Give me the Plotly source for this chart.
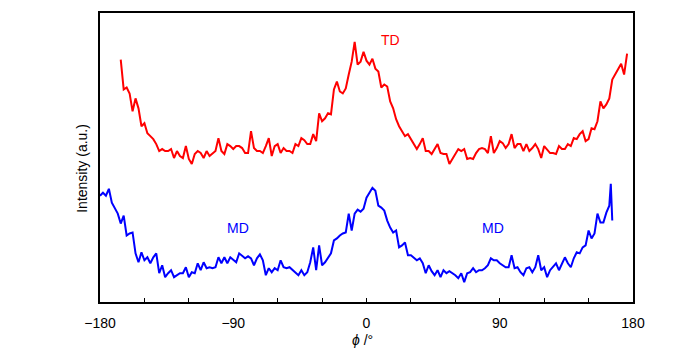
import plotly.graph_objects as go

# Azimuthal intensity profiles (phi in degrees, intensity in a.u.)
td_phi = list(range(-166, 181, 2))
td_intensity = [
    244, 214, 216, 210, 192, 205, 195, 177, 180, 170, 167, 164, 159, 152, 154, 152,
    152, 154, 145, 152, 147, 145, 157, 144, 139, 149, 152, 150, 145, 152, 147, 150,
    152, 165, 152, 149, 159, 157, 154, 157, 157, 155, 150, 150, 172, 155, 152, 152,
    150, 157, 165, 147, 157, 159, 150, 155, 152, 152, 150, 159, 157, 165, 163, 159,
    159, 169, 162, 190, 182, 185, 190, 189, 214, 222, 212, 210, 215, 229, 242, 262,
    239, 242, 252, 243, 239, 245, 235, 232, 216, 219, 217, 202, 195, 184, 177, 172,
    167, 169, 164, 160, 154, 159, 165, 152, 152, 149, 154, 159, 150, 149, 149, 139,
    144, 149, 154, 152, 154, 144, 145, 144, 150, 154, 155, 154, 150, 167, 150, 155,
    162, 160, 155, 159, 169, 155, 159, 159, 152, 159, 152, 155, 159, 154, 145, 157,
    154, 150, 150, 149, 157, 154, 154, 159, 157, 165, 164, 169, 172, 162, 164, 175,
    174, 182, 202, 195, 199, 205, 224, 229, 234, 240, 229, 250,
]

md_phi = list(range(-180, 165, 2)) + [165, 166]
md_intensity = [
    107, 110, 107, 114, 100, 94, 89, 79, 87, 67, 69, 70, 49, 40, 50, 42,
    45, 39, 45, 49, 29, 37, 25, 29, 32, 25, 27, 29, 29, 35, 25, 30,
    29, 39, 32, 40, 34, 35, 34, 35, 45, 39, 45, 39, 45, 42, 40, 49,
    46, 44, 46, 44, 37, 44, 48, 42, 27, 34, 30, 34, 32, 42, 35, 34,
    35, 32, 29, 27, 32, 27, 30, 40, 55, 32, 57, 37, 40, 45, 49, 62,
    64, 67, 69, 70, 89, 72, 89, 93, 91, 94, 105, 110, 115, 112, 97, 95,
    92, 82, 75, 70, 72, 55, 57, 60, 47, 47, 44, 42, 44, 39, 29, 37,
    31, 27, 32, 25, 32, 29, 31, 29, 27, 24, 29, 20, 29, 30, 34, 30,
    32, 32, 34, 37, 44, 42, 42, 39, 37, 35, 35, 47, 34, 35, 30, 27,
    34, 35, 30, 35, 47, 32, 35, 25, 32, 35, 39, 32, 39, 45, 39, 35,
    44, 50, 49, 55, 57, 72, 64, 69, 89, 80, 80, 90, 97, 119, 82,
]

td_label = dict(text="TD", phi=16.5, intensity=264)
md_labels = [dict(text="MD", phi=-86.8, intensity=75), dict(text="MD", phi=85.4, intensity=75)]

major_ticks = [-180, -90, 0, 90, 180]
minor_ticks = list(range(-180, 181, 30))

fig = go.Figure()
fig.add_trace(go.Scatter(x=td_phi, y=td_intensity, mode="lines",
                         line=dict(color="#ff0000", width=2), showlegend=False))
fig.add_trace(go.Scatter(x=md_phi, y=md_intensity, mode="lines",
                         line=dict(color="#0000ff", width=2), showlegend=False))

fig.add_annotation(x=td_label["phi"], y=td_label["intensity"], text=td_label["text"],
                   showarrow=False, font=dict(color="#ff0000", size=14))
for lab in md_labels:
    fig.add_annotation(x=lab["phi"], y=lab["intensity"], text=lab["text"],
                       showarrow=False, font=dict(color="#0000ff", size=14))

# axis titles placed as paper-anchored text
fig.add_annotation(xref="paper", yref="paper", x=0.4916, y=-0.131,
                   xanchor="center", yanchor="middle", showarrow=False,
                   text="<i>\u03d5</i> /\u00b0", font=dict(size=14))
fig.add_annotation(xref="paper", yref="paper", x=-0.034, y=0.464,
                   xanchor="center", yanchor="middle", showarrow=False, textangle=-90,
                   text="Intensity (a.u.)", font=dict(size=14))

tick_text = [("\u2212" + str(-v) if v < 0 else str(v)) if v in major_ticks else ""
             for v in minor_ticks]

fig.update_layout(
    width=680, height=349,
    margin=dict(l=100, r=47, t=11, b=47),
    paper_bgcolor="white", plot_bgcolor="white",
    font=dict(family="Liberation Sans, Arial, sans-serif", color="black", size=14),
    xaxis=dict(
        range=[-180, 180], showgrid=False, zeroline=False,
        showline=True, linecolor="black", linewidth=2, mirror=True,
        tickmode="array", tickvals=minor_ticks, ticktext=tick_text,
        ticks="inside", ticklen=4, tickwidth=1, tickcolor="black",
        tickfont=dict(size=14), ticklabelstandoff=7,
    ),
    yaxis=dict(
        range=[0, 291], showgrid=False, zeroline=False,
        showline=True, linecolor="black", linewidth=2, mirror=True,
        showticklabels=False, ticks="",
    ),
)

fig.write_html("out.html")
